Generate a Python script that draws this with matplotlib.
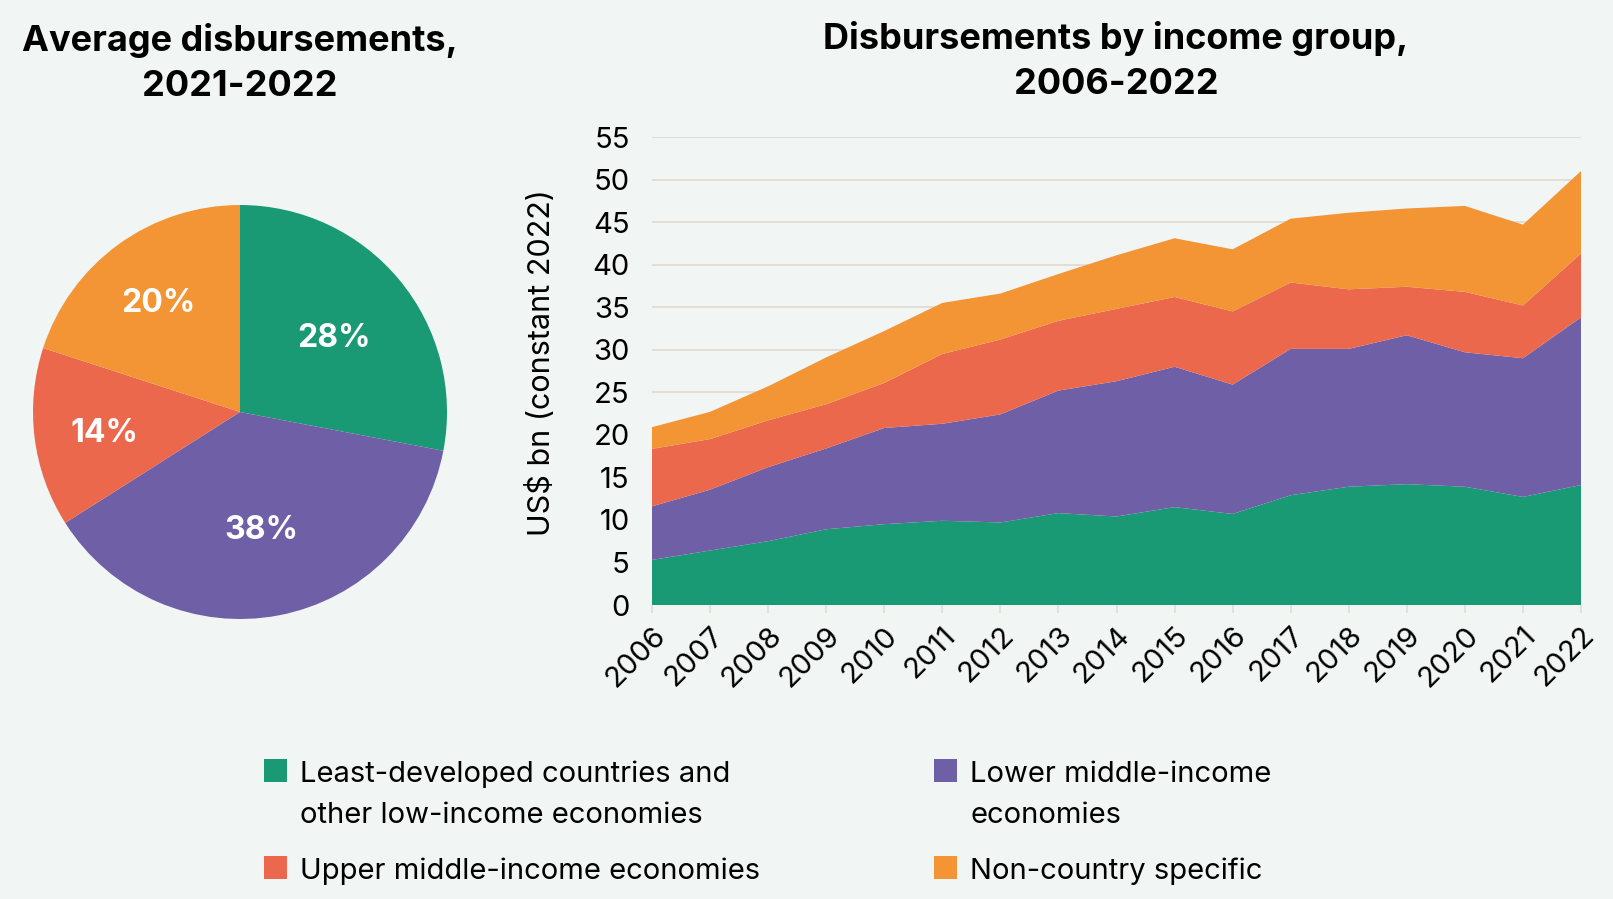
import matplotlib
matplotlib.use("Agg")
import matplotlib.pyplot as plt
import numpy as np
from matplotlib.patches import Rectangle

# ---------------- data ----------------
years = list(range(2006, 2023))
least_developed = [5.3, 6.4, 7.5, 8.9, 9.5, 9.9, 9.7, 10.8, 10.4, 11.5, 10.7, 12.9, 13.9, 14.2, 13.9, 12.7, 14.1]
lower_middle = [6.3, 7.15, 8.7, 9.5, 11.3, 11.4, 12.7, 14.4, 15.9, 16.5, 15.2, 17.2, 16.2, 17.5, 15.8, 16.3, 19.7]
upper_middle = [6.75, 5.95, 5.5, 5.2, 5.3, 8.2, 8.8, 8.2, 8.5, 8.2, 8.6, 7.8, 7.0, 5.7, 7.1, 6.2, 7.5]
non_country = [2.55, 3.2, 4.0, 5.5, 6.1, 6.0, 5.4, 5.5, 6.3, 6.9, 7.3, 7.5, 9.0, 9.2, 10.1, 9.5, 9.7]

pie_labels = ["Least-developed countries", "Lower middle-income", "Upper middle-income", "Non-country specific"]
pie_shares = [28, 38, 14, 20]

legend_labels = ["Least-developed countries and\nother low-income economies",
                 "Lower middle-income\neconomies",
                 "Upper middle-income economies",
                 "Non-country specific"]

yticks = list(range(0, 60, 5))

# ---------------- style ----------------
BG = "#F1F5F3"
GREEN = "#1A9A74"
PURPLE = "#6F5FA6"
RED = "#EC684D"
ORANGE = "#F39534"
GRID = "#E3DBD4"
colors = [GREEN, PURPLE, RED, ORANGE]

plt.rcParams['font.family'] = ['Inter', 'Liberation Sans', 'DejaVu Sans']

W, H = 1613, 899
fig = plt.figure(figsize=(W / 100, H / 100), dpi=100, facecolor=BG)

def fx(px):
    return px / W

def fy(py):
    return 1 - py / H

# ---------------- pie ----------------
cx, cy, R = 240, 412, 207
axp = fig.add_axes([fx(cx - R), fy(cy + R), 2 * R / W, 2 * R / H])
axp.set_facecolor(BG)
wedges, _ = axp.pie(pie_shares, colors=colors, startangle=90, counterclock=False,
                    radius=1, wedgeprops=dict(linewidth=0))
axp.set_xlim(-1, 1)
axp.set_ylim(-1, 1)
axp.set_aspect('equal')
axp.axis('off')
label_dist = [0.59, 0.56, 0.66, 0.67]
for w, share, d in zip(wedges, pie_shares, label_dist):
    ang = np.deg2rad((w.theta1 + w.theta2) / 2)
    axp.text(d * np.cos(ang), d * np.sin(ang) - 0.02, f"{share}%", color="white",
             fontsize=23, fontweight="bold", ha="center", va="center")

fig.text(fx(240), fy(41), "Average disbursements,", ha="center", va="center",
         fontsize=26, fontweight="bold", color="black")
fig.text(fx(240), fy(86), "2021-2022", ha="center", va="center",
         fontsize=26, fontweight="bold", color="black")

# ---------------- stacked area ----------------
x0, x1, ytop, ybot = 652, 1581, 137, 605
ax = fig.add_axes([fx(x0), fy(ybot), (x1 - x0) / W, (ybot - ytop) / H])
ax.set_facecolor(BG)
ax.stackplot(years, least_developed, lower_middle, upper_middle, non_country,
             colors=colors, linewidth=0, zorder=3)
ax.set_xlim(years[0], years[-1])
ax.set_ylim(0, 55)
ax.set_yticks(yticks)
ax.set_yticklabels([str(v) for v in yticks], fontsize=21)
ax.set_xticks(years)
ax.set_xticklabels([str(y) for y in years], fontsize=21, rotation=45,
                   ha="right", va="top", rotation_mode="anchor")
ax.tick_params(axis="y", length=0, pad=16)
ax.tick_params(axis="x", length=6, width=1.2, color=GRID, pad=6)
for sp in ax.spines.values():
    sp.set_visible(False)
ax.grid(axis="y", color=GRID, linewidth=1.3, zorder=0)
ax.set_axisbelow(True)
ax.set_ylabel("US$ bn (constant 2022)", fontsize=22)
ax.yaxis.set_label_coords(-0.103, 0.517)

fig.text(fx(1116), fy(39), "Disbursements by income group,", ha="center", va="center",
         fontsize=26, fontweight="bold", color="black")
fig.text(fx(1116), fy(84), "2006-2022", ha="center", va="center",
         fontsize=26, fontweight="bold", color="black")

# ---------------- legend ----------------
# (square x, square top y, first baseline y) in pixels
positions = [(264, 759, 782), (934, 759, 782), (264, 856, 879), (934, 856, 879)]
sq = 23
line_gap = 41
for (lx, top, base), col, lab in zip(positions, colors, legend_labels):
    fig.patches.append(Rectangle((fx(lx), fy(top + sq)), sq / W, sq / H,
                                 transform=fig.transFigure, facecolor=col,
                                 edgecolor="none"))
    for i, line in enumerate(lab.split("\n")):
        fig.text(fx(lx + 36), fy(base + i * line_gap), line, ha="left",
                 va="baseline", fontsize=21, color="black")

fig.savefig("out.png", dpi=100, facecolor=BG)
